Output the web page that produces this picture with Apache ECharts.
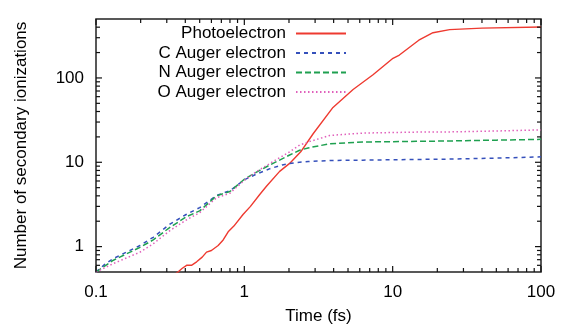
<!DOCTYPE html>
<html>
<head>
<meta charset="UTF-8">
<title></title>
<script src="https://cdn.jsdelivr.net/npm/echarts@6/dist/echarts.min.js"></script>
</head>
<body style="margin:0">
<div id="main" style="width:562px;height:330px;"></div>
<script>
// [time (fs), number of secondary ionizations]
var photoelectron = [[0.33,0.45],[0.357,0.5],[0.38,0.55],[0.408,0.6],[0.44,0.6],[0.477,0.66],[0.52,0.75],
    [0.556,0.86],[0.6,0.9],[0.666,1.03],[0.72,1.2],[0.778,1.5],[0.85,1.75],[0.98,2.4],[1.1,3.0],
    [1.27,4.15],[1.41,5.2],[1.73,7.8],[2.02,9.7],[2.4,13.3],[2.91,21.8],[3.96,44.7],[5.41,73],
    [7.37,109],[10.05,171],[11.1,187],[15,280],[18.7,344],[24.2,374],[40,390],[100,402]];
var cAuger = [[0.1,0.5],[0.115,0.62],[0.131,0.72],[0.16,0.86],[0.198,1.03],[0.243,1.29],[0.315,1.85],
    [0.408,2.42],[0.5,2.9],[0.65,4.04],[0.8,4.6],[1.0,6.2],[1.2,7.2],[1.49,8.4],[1.8,9.3],[2.2,9.9],
    [2.7,10.2],[3.77,10.5],[6.3,10.6],[14.4,10.8],[24,10.9],[50,11.2],[100,11.6]];
var nAuger = [[0.1,0.5],[0.131,0.69],[0.198,0.98],[0.243,1.2],[0.315,1.69],[0.408,2.27],[0.5,2.65],
    [0.65,4.0],[0.8,4.5],[1.0,6.3],[1.2,7.6],[1.49,9.3],[2.02,12.2],[2.36,13.9],[2.69,14.8],
    [3.77,16.6],[6.3,17.4],[14.4,17.7],[24,17.9],[50,18.3],[100,18.7]];
var oAuger = [[0.1,0.5],[0.131,0.63],[0.198,0.86],[0.243,1.08],[0.315,1.55],[0.408,2.08],[0.5,2.53],
    [0.65,3.8],[0.8,4.3],[1.0,6.1],[1.2,7.7],[1.49,9.7],[2.02,13.3],[2.36,16.0],[2.69,17.4],
    [3.77,20.8],[6.3,22.2],[14.4,22.8],[24,22.9],[50,23.5],[100,24.2]];

var xMajor = [0.1, 1, 10, 100];
var xMinor = [0.2,0.3,0.4,0.5,0.6,0.7,0.8,0.9,2,3,4,5,6,7,8,9,20,30,40,50,60,70,80,90];
var yMajor = [1, 10, 100];
var yMinor = [0.6,0.7,0.8,0.9,2,3,4,5,6,7,8,9,20,30,40,50,60,70,80,90,200,300,400];

var X_MIN = 0.1, X_MAX = 100, Y_MIN = 0.5, Y_MAX = 500;
var FONT = 'Liberation Sans';
var myChart = echarts.init(document.getElementById('main'));

// gnuplot style mirrored ticks, drawn inside the frame on both sides
function tickSeries(values, isX, len) {
    return {
        type: 'custom', silent: true, clip: false, z: 5,
        data: values.map(function (v) { return isX ? [v, Y_MIN] : [X_MIN, v]; }),
        renderItem: function (params, api) {
            var st = { stroke: '#111', lineWidth: 1.2 };
            if (isX) {
                var v = api.value(0);
                var a = api.coord([v, Y_MIN]), b = api.coord([v, Y_MAX]);
                return { type: 'group', children: [
                    { type: 'line', shape: { x1: a[0], y1: a[1], x2: a[0], y2: a[1] - len }, style: st },
                    { type: 'line', shape: { x1: b[0], y1: b[1], x2: b[0], y2: b[1] + len }, style: st }
                ] };
            }
            var w = api.value(1);
            var c = api.coord([X_MIN, w]), d = api.coord([X_MAX, w]);
            return { type: 'group', children: [
                { type: 'line', shape: { x1: c[0], y1: c[1], x2: c[0] + len, y2: c[1] }, style: st },
                { type: 'line', shape: { x1: d[0], y1: d[1], x2: d[0] - len, y2: d[1] }, style: st }
            ] };
        }
    };
}

var option = {
    animation: false,
    backgroundColor: '#fff',
    grid: { left: 96, right: 21, top: 19, bottom: 54, show: true, borderColor: '#222', borderWidth: 1.5 },
    legend: {
        orient: 'vertical', align: 'right', right: 215, top: 25, padding: 0,
        itemWidth: 50, itemHeight: 14, itemGap: 2.5,
        itemStyle: { opacity: 0 },
        textStyle: { fontFamily: FONT, fontSize: 17, color: '#000', padding: [0, 5, 0, 0] },
        data: ['Photoelectron', 'C Auger electron', 'N Auger electron', 'O Auger electron']
    },
    xAxis: {
        type: 'log', logBase: 10, min: X_MIN, max: X_MAX,
        axisLine: { show: false },
        axisTick: { show: false },
        axisLabel: { customValues: xMajor, margin: 12, fontFamily: FONT, fontSize: 17, color: '#000',
            formatter: function (v) { return String(v); } },
        splitLine: { show: false },
        name: 'Time (fs)', nameLocation: 'middle', nameGap: 36,
        nameTextStyle: { fontFamily: FONT, fontSize: 17, color: '#000' }
    },
    yAxis: {
        type: 'log', logBase: 10, min: Y_MIN, max: Y_MAX,
        axisLine: { show: false },
        axisTick: { show: false },
        axisLabel: { customValues: yMajor, margin: 12, fontFamily: FONT, fontSize: 17, color: '#000',
            formatter: function (v) { return String(v); } },
        splitLine: { show: false },
        name: 'Number of secondary ionizations', nameLocation: 'middle', nameGap: 66,
        nameTextStyle: { fontFamily: FONT, fontSize: 17, color: '#000' }
    },
    series: [
        { name: 'Photoelectron', type: 'line', data: photoelectron, showSymbol: false,
          lineStyle: { color: '#ee3a30', width: 1.4 }, itemStyle: { color: '#ee3a30' } },
        { name: 'C Auger electron', type: 'line', data: cAuger, showSymbol: false,
          lineStyle: { color: '#3550bb', width: 1.5, type: [4, 4] }, itemStyle: { color: '#3550bb' } },
        { name: 'N Auger electron', type: 'line', data: nAuger, showSymbol: false,
          lineStyle: { color: '#1fa050', width: 1.5, type: [6, 3] }, itemStyle: { color: '#1fa050' } },
        { name: 'O Auger electron', type: 'line', data: oAuger, showSymbol: false,
          lineStyle: { color: '#e060bb', width: 1.5, type: [1.5, 2.5] }, itemStyle: { color: '#e060bb' } },
        tickSeries(xMajor, true, 6),
        tickSeries(xMinor, true, 4),
        tickSeries(yMajor, false, 6),
        tickSeries(yMinor, false, 4)
    ]
};
myChart.setOption(option);
</script>
</body>
</html>
